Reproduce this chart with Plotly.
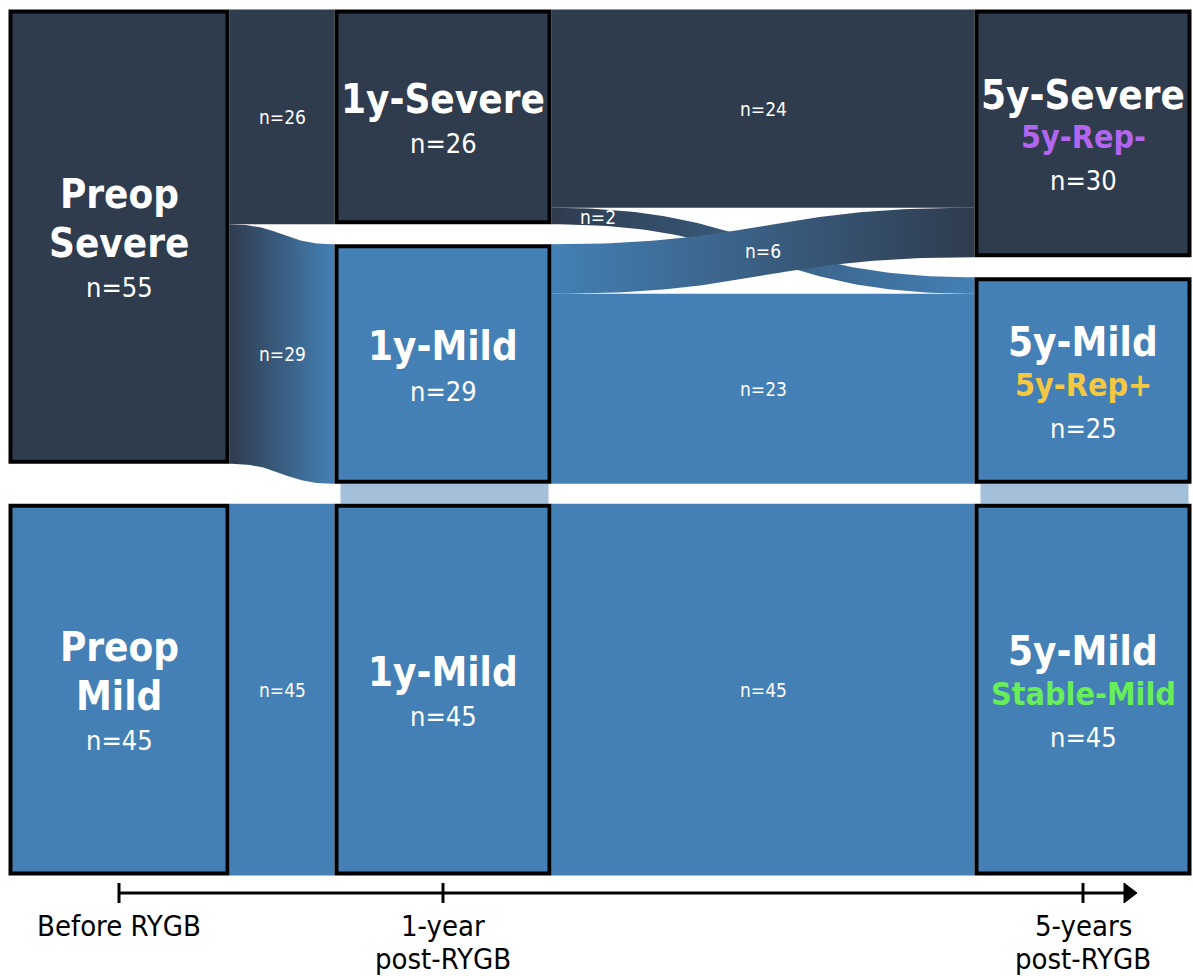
import numpy as np
import plotly.graph_objects as go

# ---------------- data ----------------
stage_labels = [["Before RYGB"], ["1-year", "post-RYGB"], ["5-years", "post-RYGB"]]
node_titles = [["Preop", "Severe"], ["Preop", "Mild"], ["1y-Severe"], ["1y-Mild"],
               ["1y-Mild"], ["5y-Severe"], ["5y-Mild"], ["5y-Mild"]]
node_subtitles = [None, None, None, None, None, "5y-Rep-", "5y-Rep+", "Stable-Mild"]
node_stage = [0, 0, 1, 1, 1, 2, 2, 2]
node_counts = [55, 45, 26, 29, 45, 30, 25, 45]
node_group = ["Severe", "Mild", "Severe", "Mild", "Mild", "Severe", "Mild", "Mild"]
link_source = [0, 0, 1, 2, 2, 3, 3, 4]
link_target = [2, 3, 4, 5, 6, 5, 6, 7]
link_values = [26, 29, 45, 24, 2, 6, 23, 45]
bridge_pairs = [(3, 4), (6, 7)]          # same-category nodes joined by a light band

# ---------------- style ----------------
W, H = 1193, 976
FONT = "DejaVu Sans Condensed, DejaVu Sans, sans-serif"
group_color = {"Severe": "#2F3C4E", "Mild": "#4480B5"}
bridge_color = "#A3BFDA"
sub_color = {"5y-Rep-": "#B266F0", "5y-Rep+": "#F5C842", "Stable-Mild": "#68EE58"}
col_x0 = [8.5, 334.5, 974.5]
col_w = [221, 217, 217]
top, bottom = 9.5, 875.5
min_gap = 20
border = 4
label_t = [0.5, 0.5, 0.5, 0.5, 0.08, 0.5, 0.5, 0.5]
axis_y = 893

# ---------------- layout computation ----------------
n_nodes = len(node_counts)
stages = sorted(set(node_stage))
max_nodes = max(node_stage.count(s) for s in stages)
col_totals = [sum(c for c, st in zip(node_counts, node_stage) if st == s) for s in stages]
scale = (bottom - top - (max_nodes - 1) * min_gap) / max(col_totals)

node_y0 = [0.0] * n_nodes
node_y1 = [0.0] * n_nodes
for s in stages:
    idx = [i for i in range(n_nodes) if node_stage[i] == s]
    gap = (bottom - top - col_totals[s] * scale) / max(len(idx) - 1, 1)
    y = top
    for i in idx:
        node_y0[i] = y
        node_y1[i] = y + node_counts[i] * scale
        y = node_y1[i] + gap
node_x0 = [col_x0[node_stage[i]] for i in range(n_nodes)]
node_x1 = [col_x0[node_stage[i]] + col_w[node_stage[i]] for i in range(n_nodes)]

# link offsets
src_off = [0.0] * len(link_values)
tgt_off = [0.0] * len(link_values)
for n in range(n_nodes):
    outs = sorted([k for k in range(len(link_values)) if link_source[k] == n], key=lambda k: link_target[k])
    acc = 0
    for k in outs:
        src_off[k] = acc
        acc += link_values[k]
    ins = sorted([k for k in range(len(link_values)) if link_target[k] == n], key=lambda k: link_source[k])
    acc = 0
    for k in ins:
        tgt_off[k] = acc
        acc += link_values[k]

fig = go.Figure()
annotations = []
shapes = []

t = np.linspace(0, 1, 80)
bw = 3 * (1 - t) * t ** 2 + t ** 3          # y-blend weight
for k, v in enumerate(link_values):
    s, g = link_source[k], link_target[k]
    xs, xt = node_x1[s], node_x0[g]
    xm = (xs + xt) / 2
    bx = (1 - t) ** 3 * xs + 3 * (1 - t) ** 2 * t * xm + 3 * (1 - t) * t ** 2 * xm + t ** 3 * xt
    ys0 = node_y0[s] + src_off[k] * scale
    yt0 = node_y0[g] + tgt_off[k] * scale
    ys1, yt1 = ys0 + v * scale, yt0 + v * scale
    ytop = ys0 + (yt0 - ys0) * bw
    ybot = ys1 + (yt1 - ys1) * bw
    c0, c1 = group_color[node_group[s]], group_color[node_group[g]]
    tr = dict(x=np.concatenate([bx, bx[::-1]]), y=np.concatenate([ytop, ybot[::-1]]),
              fill="toself", mode="lines", line=dict(width=0), fillcolor=c0,
              hoverinfo="skip", showlegend=False)
    if c0 != c1:
        tr["fillgradient"] = dict(type="horizontal", colorscale=[[0, c0], [1, c1]])
    fig.add_trace(go.Scatter(**tr))
    # label
    tl = label_t[k]
    lx = (1 - tl) ** 3 * xs + 3 * (1 - tl) ** 2 * tl * xm + 3 * (1 - tl) * tl ** 2 * xm + tl ** 3 * xt
    w_ = 3 * (1 - tl) * tl ** 2 + tl ** 3
    ly = ((ys0 + ys1) / 2) + (((yt0 + yt1) / 2) - ((ys0 + ys1) / 2)) * w_
    annotations.append(dict(x=lx, y=ly, text=f"n={v}", showarrow=False,
                            font=dict(family=FONT, size=19, color="white"),
                            xanchor="center", yanchor="middle"))

# bridges
for a, b in bridge_pairs:
    shapes.append(dict(type="rect", x0=node_x0[a] + 6, x1=node_x1[a] - 3,
                       y0=node_y1[a], y1=node_y0[b], fillcolor=bridge_color,
                       line=dict(width=0), layer="below"))

# nodes
gap_pairs = {("t", "t"): 48.5, ("t", "n"): 45, ("t", "s"): 42.5, ("s", "n"): 43.5}
for i in range(n_nodes):
    shapes.append(dict(type="rect", x0=node_x0[i] + border / 2, x1=node_x1[i] - border / 2,
                       y0=node_y0[i] + border / 2, y1=node_y1[i] - border / 2,
                       fillcolor=group_color[node_group[i]],
                       line=dict(color="black", width=border)))
    lines = [("t", f"<b>{tt}</b>", 40, "white") for tt in node_titles[i]]
    if node_subtitles[i]:
        lines.append(("s", f"<b>{node_subtitles[i]}</b>", 32, sub_color[node_subtitles[i]]))
    lines.append(("n", f"n={node_counts[i]}", 27, "white"))
    pos = [0.0]
    for j in range(1, len(lines)):
        pos.append(pos[-1] + gap_pairs[(lines[j - 1][0], lines[j][0])])
    cy = (node_y0[i] + node_y1[i]) / 2 + 4.5 - pos[-1] / 2
    cx = (node_x0[i] + node_x1[i]) / 2
    for (kind, txt, size, col), p in zip(lines, pos):
        annotations.append(dict(x=cx, y=cy + p, text=txt, showarrow=False,
                                font=dict(family=FONT, size=size, color=col),
                                xanchor="center", yanchor="middle"))

# time axis
centers = [col_x0[s] + col_w[s] / 2 for s in stages]
arrow_tip = centers[-1] + 54
shapes.append(dict(type="line", x0=centers[0], x1=arrow_tip - 10, y0=axis_y, y1=axis_y,
                   line=dict(color="black", width=3)))
shapes.append(dict(type="path",
                   path=f"M {arrow_tip - 13} {axis_y - 10} L {arrow_tip} {axis_y} L {arrow_tip - 13} {axis_y + 10} Z",
                   fillcolor="black", line=dict(color="black", width=1)))
for s in stages:
    shapes.append(dict(type="line", x0=centers[s], x1=centers[s], y0=axis_y - 10, y1=axis_y + 10,
                       line=dict(color="black", width=3)))
    for j, txt in enumerate(stage_labels[s]):
        annotations.append(dict(x=centers[s], y=926 + j * 32.5, text=txt, showarrow=False,
                                font=dict(family=FONT, size=29, color="black"),
                                xanchor="center", yanchor="middle"))

fig.update_layout(
    width=W, height=H, margin=dict(l=0, r=0, t=0, b=0),
    paper_bgcolor="white", plot_bgcolor="white", showlegend=False,
    xaxis=dict(range=[0, W], visible=False, fixedrange=True),
    yaxis=dict(range=[H, 0], visible=False, fixedrange=True),
    shapes=shapes, annotations=annotations,
)
fig.write_html("out.html", config={"displayModeBar": False},
               post_script="document.body.style.margin='0px';")
